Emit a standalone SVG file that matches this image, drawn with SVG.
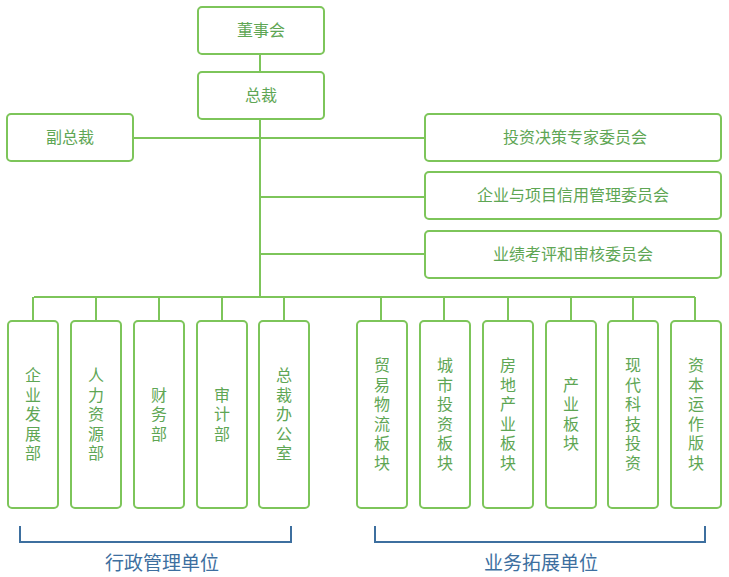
<svg xmlns="http://www.w3.org/2000/svg" width="729" height="577" viewBox="0 0 729 577">
<style>
.box{fill:#fff;stroke:#7dc55a;stroke-width:2}
.ln{stroke:#7dc55a;stroke-width:2;fill:none}
.t{font-family:"Noto Sans CJK SC","Noto Sans",sans-serif;font-size:16px;fill:#5ea654;text-anchor:middle}
.v{font-family:"Noto Sans CJK SC","Noto Sans",sans-serif;font-size:16px;fill:#5ea654;text-anchor:middle}
.br{stroke:#3d6f9f;stroke-width:2;fill:none}
.bl{font-family:"Noto Sans CJK SC","Noto Sans",sans-serif;font-size:19px;fill:#3d6f9f;text-anchor:middle}
</style>
<rect width="729" height="577" fill="#fff"/>
<g id="connectors">
<path class="ln" d="M260 54V72M260 119V297M133 138H425M260 197H425M260 254H425M34 297H695"/>
<path class="ln" d="M33 297V321M96 297V321M159 297V321M222 297V321M284 297V321M381 297V321M444 297V321M508 297V321M571 297V321M633 297V321M695 297V321"/>
</g>
<g id="n-board"><rect class="box" x="198" y="7" width="126" height="47" rx="4"/><text class="t" x="261" y="36">董事会</text></g>
<g id="n-president"><rect class="box" x="198" y="72" width="126" height="47" rx="4"/><text class="t" x="261" y="101">总裁</text></g>
<g id="n-vp"><rect class="box" x="7" y="114" width="126" height="47" rx="4"/><text class="t" x="70" y="143">副总裁</text></g>
<g id="n-c1"><rect class="box" x="425" y="114" width="296" height="47" rx="4"/><text class="t" x="575" y="143">投资决策专家委员会</text></g>
<g id="n-c2"><rect class="box" x="425" y="172" width="296" height="47" rx="4"/><text class="t" x="573" y="201">企业与项目信用管理委员会</text></g>
<g id="n-c3"><rect class="box" x="425" y="231" width="296" height="47" rx="4"/><text class="t" x="573" y="260">业绩考评和审核委员会</text></g>

<g id="n-d1"><rect class="box" x="8" y="321" width="50" height="187" rx="4"/><text class="v"><tspan x="33" y="381">企</tspan><tspan x="33" y="400.5">业</tspan><tspan x="33" y="420">发</tspan><tspan x="33" y="439.5">展</tspan><tspan x="33" y="459">部</tspan></text></g>
<g id="n-d2"><rect class="box" x="71" y="321" width="50" height="187" rx="4"/><text class="v"><tspan x="96" y="381">人</tspan><tspan x="96" y="400.5">力</tspan><tspan x="96" y="420">资</tspan><tspan x="96" y="439.5">源</tspan><tspan x="96" y="459">部</tspan></text></g>
<g id="n-d3"><rect class="box" x="134" y="321" width="50" height="187" rx="4"/><text class="v"><tspan x="159" y="400.5">财</tspan><tspan x="159" y="420">务</tspan><tspan x="159" y="439.5">部</tspan></text></g>
<g id="n-d4"><rect class="box" x="197" y="321" width="50" height="187" rx="4"/><text class="v"><tspan x="222" y="400.5">审</tspan><tspan x="222" y="420">计</tspan><tspan x="222" y="439.5">部</tspan></text></g>
<g id="n-d5"><rect class="box" x="259" y="321" width="50" height="187" rx="4"/><text class="v"><tspan x="284" y="381">总</tspan><tspan x="284" y="400.5">裁</tspan><tspan x="284" y="420">办</tspan><tspan x="284" y="439.5">公</tspan><tspan x="284" y="459">室</tspan></text></g>

<g id="n-b1"><rect class="box" x="357" y="321" width="50" height="187" rx="4"/><text class="v"><tspan x="382" y="371">贸</tspan><tspan x="382" y="390.5">易</tspan><tspan x="382" y="410">物</tspan><tspan x="382" y="429.5">流</tspan><tspan x="382" y="449">板</tspan><tspan x="382" y="468.5">块</tspan></text></g>
<g id="n-b2"><rect class="box" x="420" y="321" width="50" height="187" rx="4"/><text class="v"><tspan x="445" y="371">城</tspan><tspan x="445" y="390.5">市</tspan><tspan x="445" y="410">投</tspan><tspan x="445" y="429.5">资</tspan><tspan x="445" y="449">板</tspan><tspan x="445" y="468.5">块</tspan></text></g>
<g id="n-b3"><rect class="box" x="483" y="321" width="50" height="187" rx="4"/><text class="v"><tspan x="508" y="371">房</tspan><tspan x="508" y="390.5">地</tspan><tspan x="508" y="410">产</tspan><tspan x="508" y="429.5">业</tspan><tspan x="508" y="449">板</tspan><tspan x="508" y="468.5">块</tspan></text></g>
<g id="n-b4"><rect class="box" x="546" y="321" width="50" height="187" rx="4"/><text class="v"><tspan x="571" y="390.5">产</tspan><tspan x="571" y="410">业</tspan><tspan x="571" y="429.5">板</tspan><tspan x="571" y="449">块</tspan></text></g>
<g id="n-b5"><rect class="box" x="608" y="321" width="50" height="187" rx="4"/><text class="v"><tspan x="633" y="371">现</tspan><tspan x="633" y="390.5">代</tspan><tspan x="633" y="410">科</tspan><tspan x="633" y="429.5">技</tspan><tspan x="633" y="449">投</tspan><tspan x="633" y="468.5">资</tspan></text></g>
<g id="n-b6"><rect class="box" x="671" y="321" width="50" height="187" rx="4"/><text class="v"><tspan x="696" y="371">资</tspan><tspan x="696" y="390.5">本</tspan><tspan x="696" y="410">运</tspan><tspan x="696" y="429.5">作</tspan><tspan x="696" y="449">版</tspan><tspan x="696" y="468.5">块</tspan></text></g>

<g id="bracket-admin"><path class="br" d="M20 526V542H291V526"/><text class="bl" x="162" y="570">行政管理单位</text></g>
<g id="bracket-biz"><path class="br" d="M375 526V542H705V526"/><text class="bl" x="541" y="570">业务拓展单位</text></g>
</svg>
